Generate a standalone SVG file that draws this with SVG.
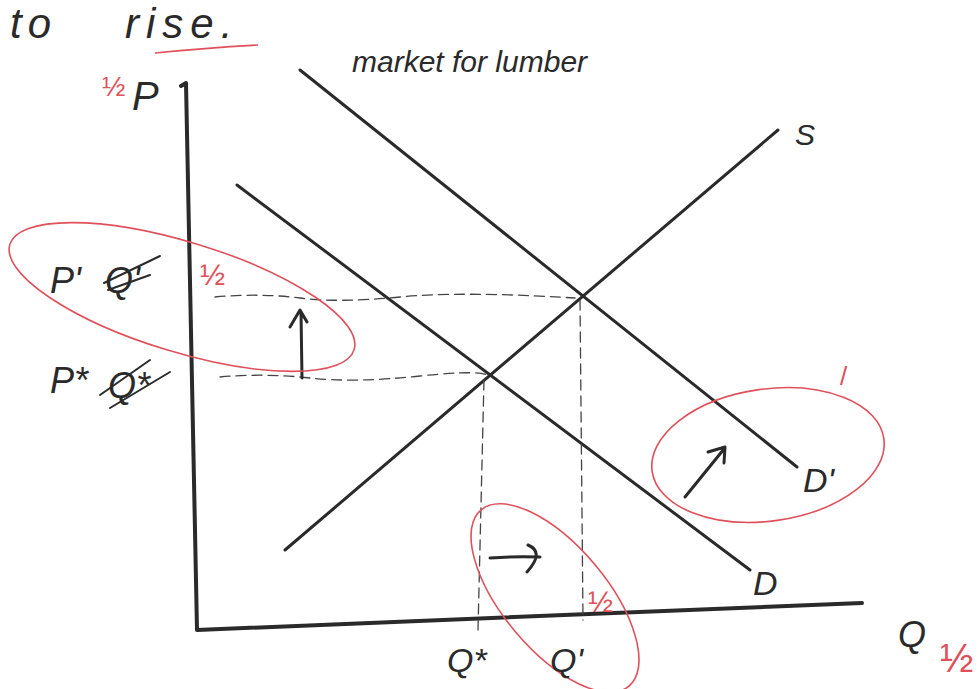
<svg xmlns="http://www.w3.org/2000/svg" width="978" height="689" viewBox="0 0 978 689">
<style>
.ink{stroke:#2a2a2a;fill:none;stroke-linecap:round;stroke-linejoin:round}
.axis{stroke-width:4}
.curve{stroke-width:3}
.dash{stroke-width:1.3;stroke-dasharray:10 6;stroke:#444}
.red{stroke:#e0505a;fill:none;stroke-width:1.6}
.t{font-family:"Liberation Sans",sans-serif;font-style:italic;fill:#2a2a2a}
.r{font-family:"Liberation Sans",sans-serif;fill:#e0505a}
</style>
<rect width="978" height="689" fill="#fff"/>
<g id="title">
<text class="t" x="10" y="38" font-size="42" letter-spacing="6">to</text>
<text class="t" x="125" y="38" font-size="42" letter-spacing="7">rise.</text>
<path class="red" d="M155 53 Q205 48 258 45" stroke-width="2.5"/>
<text class="t" x="352" y="72" font-size="30">market for lumber</text>
</g>
<g id="axes">
<path class="ink axis" d="M181 86 L186 83 L197 630 L862 603"/>
<text class="t" x="132" y="110" font-size="40">P</text>
<text class="r" x="102" y="96" font-size="28">½</text>
<text class="t" x="898" y="647" font-size="36">Q</text>
<text class="r" x="940" y="672" font-size="40">½</text>
</g>
<g id="connectors">
<path class="ink curve" d="M285 550 L778 130"/>
<path class="ink curve" d="M237 185 L750 570"/>
<path class="ink curve" d="M300 70 L797 467"/>
<path class="ink dash" d="M215 297 Q260 293 300 298 T400 297 T575 298"/>
<path class="ink dash" d="M220 377 Q265 373 310 378 T420 376 T490 377"/>
<path class="ink dash" d="M484 380 L478 630"/>
<path class="ink dash" d="M580 300 L583 620"/>
<path class="ink" stroke-width="3" d="M302 378 L301 312 M290 327 L300 310 L307 322"/>
<path class="ink" stroke-width="3" d="M490 558 Q515 556 540 557 M528 545 Q545 552 527 572"/>
<path class="ink" stroke-width="3" d="M685 497 L724 449 M708 452 L725 447 L724 463"/>
</g>
<g id="S"><text class="t" x="795" y="145" font-size="30">S</text></g>
<g id="D"><text class="t" x="753" y="595" font-size="34">D</text></g>
<g id="Dprime"><text class="t" x="803" y="492" font-size="34">D'</text>
<ellipse class="red" cx="768" cy="455" rx="117" ry="66" transform="rotate(-8 768 455)"/>
<text class="r" x="840" y="385" font-size="26">/</text></g>
<g id="price-labels">
<ellipse class="red" cx="182" cy="297" rx="180" ry="55" transform="rotate(17 182 297)"/>
<text class="t" x="50" y="293" font-size="36">P'</text>
<text class="t" x="105" y="293" font-size="36">Q'</text>
<path class="ink" stroke-width="2" d="M104 283 L160 256 M108 290 L150 275"/>
<text class="t" x="50" y="393" font-size="36">P*</text>
<text class="t" x="108" y="398" font-size="36">Q*</text>
<path class="ink" stroke-width="2" d="M100 395 L150 360 M110 408 L170 372"/>
<text class="r" x="200" y="285" font-size="30">½</text>
</g>
<g id="quantity-labels">
<ellipse class="red" cx="555" cy="598" rx="115" ry="52" transform="rotate(50 555 598)"/>
<text class="t" x="447" y="672" font-size="34">Q*</text>
<text class="t" x="550" y="672" font-size="34">Q'</text>
<text class="r" x="588" y="612" font-size="30">½</text>
</g>
</svg>
